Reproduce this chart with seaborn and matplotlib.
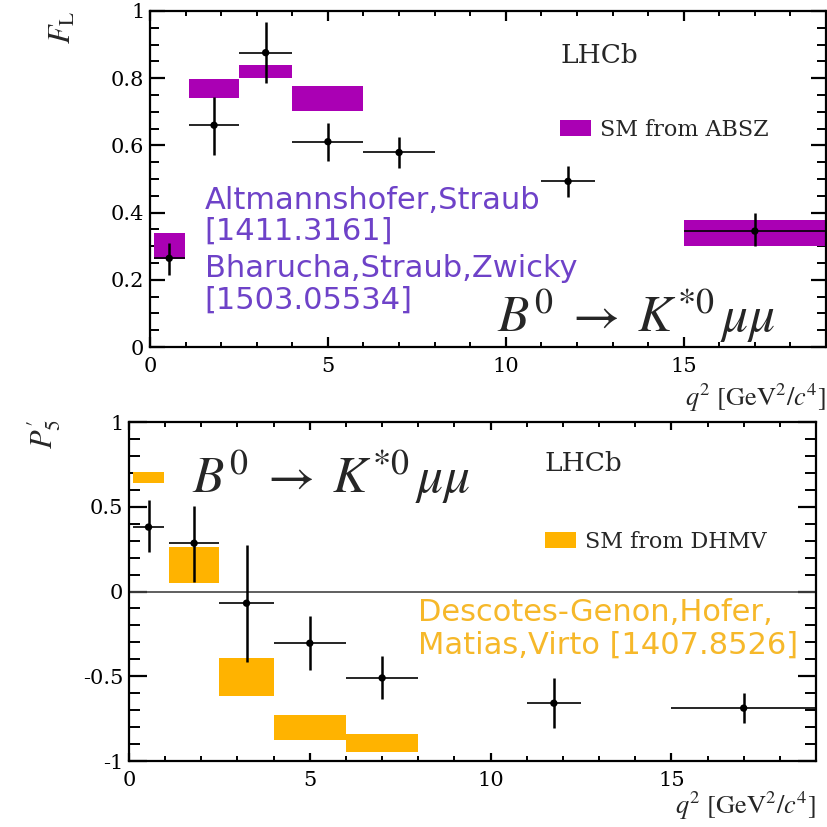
import matplotlib
matplotlib.use("Agg")
import matplotlib.pyplot as plt
from matplotlib.patches import Patch
from matplotlib.ticker import MultipleLocator, FixedLocator
import pandas as pd
import seaborn as sns

# ---- q^2 binning [GeV^2/c^4] ----
bin_lo = [0.10, 1.10, 2.50, 4.00, 6.00, 11.00, 15.00]
bin_hi = [0.98, 2.50, 4.00, 6.00, 8.00, 12.50, 19.00]
q2_mid = [0.54, 1.80, 3.25, 5.00, 7.00, 11.75, 17.00]

# ---- measured F_L (asymmetric uncertainties) ----
fl_val = [0.264, 0.660, 0.876, 0.611, 0.579, 0.493, 0.345]
fl_up = [0.046, 0.085, 0.090, 0.056, 0.047, 0.047, 0.055]
fl_dn = [0.050, 0.089, 0.090, 0.058, 0.047, 0.047, 0.045]

# ---- SM prediction for F_L (ABSZ): bin edges and band limits ----
absz_lo = [0.10, 1.10, 2.50, 4.00, 15.00]
absz_hi = [0.98, 2.50, 4.00, 6.00, 19.00]
absz_min = [0.262, 0.740, 0.800, 0.702, 0.300]
absz_max = [0.339, 0.797, 0.838, 0.778, 0.378]

# ---- measured P5' (asymmetric uncertainties) ----
p5_val = [0.380, 0.285, -0.069, -0.305, -0.510, -0.659, -0.688]
p5_up = [0.160, 0.222, 0.346, 0.158, 0.127, 0.149, 0.088]
p5_dn = [0.144, 0.226, 0.344, 0.161, 0.125, 0.147, 0.089]

# ---- SM prediction for P5' (DHMV) ----
dhmv_lo = [0.10, 1.10, 2.50, 4.00, 6.00]
dhmv_hi = [0.98, 2.50, 4.00, 6.00, 8.00]
dhmv_min = [0.643, 0.049, -0.619, -0.875, -0.948]
dhmv_max = [0.708, 0.265, -0.393, -0.727, -0.839]

PURPLE_BOX = "#AA00B4"
PURPLE_TXT = "#6E42C8"
ORANGE_BOX = "#FFB300"
ORANGE_TXT = "#F6B82A"

DECAY = r"$B^{0}\;\rightarrow\;K^{*0}\,\mu\mu$"

sns.set_theme(style="ticks")
plt.rcParams.update({
    "font.family": ["DejaVu Serif"],
    "mathtext.fontset": "stix",
    "axes.linewidth": 1.6,
    "axes.edgecolor": "black",
    "xtick.color": "black",
    "ytick.color": "black",
    "xtick.direction": "in",
    "ytick.direction": "in",
    "xtick.top": True,
    "ytick.right": True,
})

fig = plt.figure(figsize=(8.27, 8.27), dpi=100)
ax1 = fig.add_axes([0.1814, 0.5804, 0.8174, 0.4063])
ax2 = fig.add_axes([0.1560, 0.0798, 0.8307, 0.4099])


def meas_frame(val, up, dn):
    return pd.DataFrame({
        "q2": q2_mid, "val": val, "up": up, "dn": dn,
        "xlo": [m - lo for m, lo in zip(q2_mid, bin_lo)],
        "xhi": [hi - m for m, hi in zip(q2_mid, bin_hi)],
    })


def draw_band(ax, lo, hi, ymin, ymax, color):
    band = pd.DataFrame({"lo": lo, "hi": hi, "ymin": ymin, "ymax": ymax})
    ax.bar(band["lo"], band["ymax"] - band["ymin"], width=band["hi"] - band["lo"],
           bottom=band["ymin"], align="edge", color=color, linewidth=0, zorder=1)


def draw_meas(ax, df):
    ax.errorbar(df["q2"], df["val"], yerr=[df["dn"], df["up"]], fmt="none",
                ecolor="black", elinewidth=1.8, capsize=0, zorder=3)
    ax.errorbar(df["q2"], df["val"], xerr=[df["xlo"], df["xhi"]], fmt="none",
                ecolor="black", elinewidth=1.2, capsize=0, zorder=3)
    sns.scatterplot(data=df, x="q2", y="val", ax=ax, color="black", s=28,
                    edgecolor="none", zorder=4, legend=False)


def style_axes(ax, ymin, ymax, ymaj, ymin_step, ylen, xlen):
    ax.set_xlim(0, 19)
    ax.set_ylim(ymin, ymax)
    ax.xaxis.set_major_locator(FixedLocator([0, 5, 10, 15]))
    ax.xaxis.set_minor_locator(MultipleLocator(1))
    ax.yaxis.set_major_locator(MultipleLocator(ymaj))
    ax.yaxis.set_minor_locator(MultipleLocator(ymin_step))
    ax.tick_params(axis="x", which="major", length=xlen, width=1.6, labelsize=15, pad=7)
    ax.tick_params(axis="x", which="minor", length=xlen * 0.55, width=1.4)
    ax.tick_params(axis="y", which="major", length=ylen, width=1.6, labelsize=15, pad=4)
    ax.tick_params(axis="y", which="minor", length=ylen * 0.6, width=1.4)
    for sp in ax.spines.values():
        sp.set_visible(True)
        sp.set_linewidth(1.6)
    ax.set_facecolor("white")


def fmt_tick(v, _pos=None):
    if abs(v - round(v)) < 1e-9:
        return f"{int(round(v))}"
    return f"{v:g}"


# ---------------- upper panel: F_L ----------------
draw_band(ax1, absz_lo, absz_hi, absz_min, absz_max, PURPLE_BOX)
draw_meas(ax1, meas_frame(fl_val, fl_up, fl_dn))
style_axes(ax1, 0, 1, 0.2, 0.05, 11, 7)
ax1.yaxis.set_major_formatter(fmt_tick)
ax1.xaxis.set_major_formatter(fmt_tick)

ax1.set_ylabel(r"$F_{\mathrm{L}}$", fontsize=22, loc="top")
ax1.yaxis.set_label_coords(-0.107, 1.0)
ax1.set_xlabel(r"$q^{2}\ [\mathrm{GeV}^{2}/c^{4}]$", fontsize=19, loc="right")
ax1.xaxis.set_label_coords(1.0, -0.105)

ax1.text(0.6065, 0.869, "LHCb", transform=ax1.transAxes, fontsize=19,
         ha="left", va="center")
ax1.legend(handles=[Patch(facecolor=PURPLE_BOX, edgecolor="none", label="SM from ABSZ")],
           loc="center left", bbox_to_anchor=(0.6065, 0.646), frameon=False,
           fontsize=16, handlelength=1.4, handleheight=0.7, handletextpad=0.4,
           borderpad=0, borderaxespad=0)

for txt, yy in [("Altmannshofer,Straub", 0.437), ("[1411.3161]", 0.345),
                ("Bharucha,Straub,Zwicky", 0.235), ("[1503.05534]", 0.140)]:
    ax1.text(0.081, yy, txt, transform=ax1.transAxes, fontsize=22,
             family="DejaVu Sans", color=PURPLE_TXT, ha="left", va="center")

ax1.text(0.513, 0.045, DECAY, transform=ax1.transAxes,
         fontsize=37, ha="left", va="baseline")

# ---------------- lower panel: P5' ----------------
ax2.axhline(0, color="#444444", lw=1.2, zorder=2)
draw_band(ax2, dhmv_lo, dhmv_hi, dhmv_min, dhmv_max, ORANGE_BOX)
draw_meas(ax2, meas_frame(p5_val, p5_up, p5_dn))
style_axes(ax2, -1, 1, 0.5, 0.1, 13, 6)
ax2.yaxis.set_major_formatter(fmt_tick)
ax2.xaxis.set_major_formatter(fmt_tick)

ax2.set_ylabel(r"$P_{5}^{\prime}$", fontsize=22, loc="top")
ax2.yaxis.set_label_coords(-0.096, 1.01)
ax2.set_xlabel(r"$q^{2}\ [\mathrm{GeV}^{2}/c^{4}]$", fontsize=19, loc="right")
ax2.xaxis.set_label_coords(1.0, -0.086)

ax2.text(0.6055, 0.879, "LHCb", transform=ax2.transAxes, fontsize=19,
         ha="left", va="center")
ax2.legend(handles=[Patch(facecolor=ORANGE_BOX, edgecolor="none", label="SM from DHMV")],
           loc="center left", bbox_to_anchor=(0.6055, 0.6475), frameon=False,
           fontsize=16, handlelength=1.4, handleheight=0.7, handletextpad=0.4,
           borderpad=0, borderaxespad=0)

for txt, yy in [("Descotes-Genon,Hofer,", 0.437), ("Matias,Virto [1407.8526]", 0.342)]:
    ax2.text(0.421, yy, txt, transform=ax2.transAxes, fontsize=22,
             family="DejaVu Sans", color=ORANGE_TXT, ha="left", va="center")

ax2.text(0.092, 0.79, DECAY, transform=ax2.transAxes,
         fontsize=37, ha="left", va="baseline")

fig.savefig("out.png", dpi=100, facecolor="white")
